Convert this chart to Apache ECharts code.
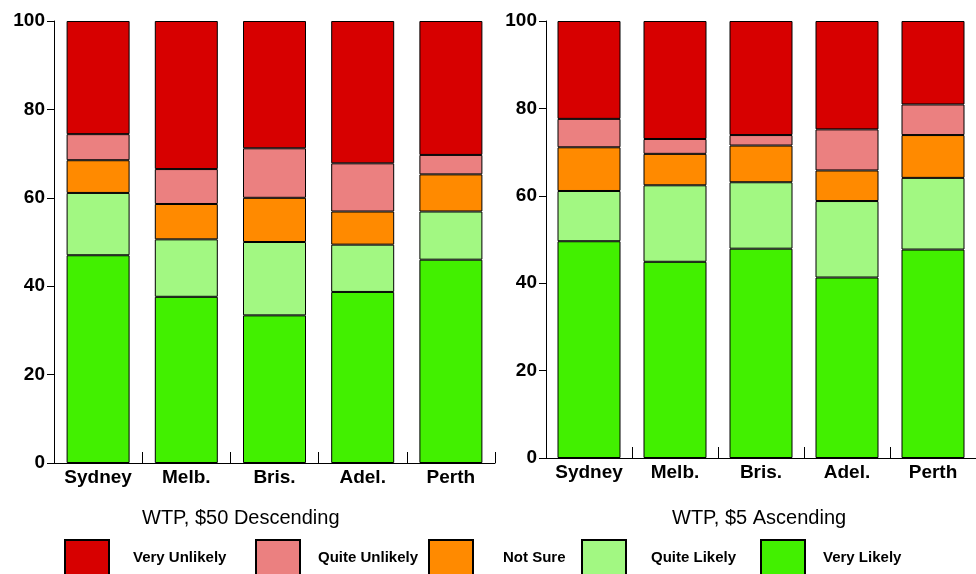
<!DOCTYPE html>
<html>
<head>
<meta charset="utf-8">
<script src="https://cdn.jsdelivr.net/npm/echarts@6/dist/echarts.min.js"></script>
<style>
  html, body { margin: 0; padding: 0; background: #fff; }
  #chart { width: 976px; height: 574px; }
</style>
</head>
<body>
<div id="chart"></div>
<script>
const cities = ['Sydney', 'Melb.', 'Bris.', 'Adel.', 'Perth'];
const levels = ['Very Unlikely', 'Quite Unlikely', 'Not Sure', 'Quite Likely', 'Very Likely'];
const colors = ['#d70000', '#eb8080', '#ff8a00', '#a2f882', '#42f000'];
const yTicks = [0, 20, 40, 60, 80, 100];

// WTP, $50 Descending (percent per city)
const desc_veryLikely = [47.0, 37.6, 33.4, 38.7, 46.0];
const desc_quiteLikely = [14.1, 13.0, 16.6, 10.7, 10.9];
const desc_notSure = [7.4, 8.0, 10.0, 7.5, 8.4];
const desc_quiteUnlikely = [5.9, 7.9, 11.2, 10.9, 4.4];
const desc_veryUnlikely = [25.6, 33.5, 28.8, 32.2, 30.3];

// WTP, $5 Ascending
const asc_veryLikely = [49.6, 44.9, 47.9, 41.3, 47.7];
const asc_quiteLikely = [11.5, 17.5, 15.2, 17.5, 16.4];
const asc_notSure = [10.0, 7.2, 8.4, 7.0, 9.8];
const asc_quiteUnlikely = [6.5, 3.4, 2.4, 9.4, 7.0];
const asc_veryUnlikely = [22.4, 27.0, 26.1, 24.8, 19.1];

const font = "'Liberation Sans', Arial, sans-serif";

const descData = {
  'Very Likely': desc_veryLikely,
  'Quite Likely': desc_quiteLikely,
  'Not Sure': desc_notSure,
  'Quite Unlikely': desc_quiteUnlikely,
  'Very Unlikely': desc_veryUnlikely
};
const ascData = {
  'Very Likely': asc_veryLikely,
  'Quite Likely': asc_quiteLikely,
  'Not Sure': asc_notSure,
  'Quite Unlikely': asc_quiteUnlikely,
  'Very Unlikely': asc_veryUnlikely
};

const makeX = (gridIndex) => ({
  type: 'category',
  gridIndex: gridIndex,
  data: cities,
  axisLine: { lineStyle: { color: '#000', width: 1 } },
  axisTick: { show: true, interval: 0, inside: true, length: 11, lineStyle: { color: '#000', width: 1 } },
  axisLabel: { interval: 0, color: '#000', fontFamily: font, fontWeight: 'bold', fontSize: 19, margin: 5 }
});

const makeY = (gridIndex) => ({
  type: 'value',
  gridIndex: gridIndex,
  min: 0,
  max: 100,
  interval: 20,
  splitLine: { show: false },
  axisLine: { show: true, lineStyle: { color: '#000', width: 1 } },
  axisTick: { show: true, length: 7, lineStyle: { color: '#000' } },
  axisLabel: {
    color: '#000', fontFamily: font, fontWeight: 'bold', fontSize: 19, margin: 9,
    formatter: (v) => yTicks.includes(v) ? String(v) : ''
  }
});

// bottom-up stacking order
const stackOrder = ['Very Likely', 'Quite Likely', 'Not Sure', 'Quite Unlikely', 'Very Unlikely'];
const series = [];
[descData, ascData].forEach((dataset, g) => {
  stackOrder.forEach(name => {
    series.push({
      name: name,
      type: 'bar',
      stack: 'g' + g,
      xAxisIndex: g,
      yAxisIndex: g,
      barWidth: 63,
      data: dataset[name],
      itemStyle: {
        color: colors[levels.indexOf(name)],
        borderColor: '#000',
        borderWidth: 1
      }
    });
  });
});

// one legend per item so each box/label can sit where the reference puts it
const legendPos = [
  { left: 64, pad: 19 },
  { left: 255, pad: 13 },
  { left: 428, pad: 25 },
  { left: 581, pad: 20 },
  { left: 760, pad: 13 }
];
const legends = levels.map((name, i) => ({
  data: [name],
  left: legendPos[i].left,
  top: 539,
  padding: 0,
  icon: 'rect',
  itemWidth: 44,
  itemHeight: 36,
  selectedMode: false,
  textStyle: {
    color: '#000', fontFamily: font, fontWeight: 'bold', fontSize: 15,
    padding: [0, 0, 0, legendPos[i].pad]
  }
}));

const chart = echarts.init(document.getElementById('chart'));
chart.setOption({
  backgroundColor: '#fff',
  animation: false,
  title: [
    { text: 'WTP, $50 Descending', left: 142, top: 508, padding: 0,
      textStyle: { fontFamily: font, fontWeight: 'normal', fontSize: 20, color: '#000' } },
    { text: 'WTP, $5 Ascending', left: 672, top: 508, padding: 0,
      textStyle: { fontFamily: font, fontWeight: 'normal', fontSize: 20, color: '#000' } }
  ],
  legend: legends,
  grid: [
    { left: 54, top: 21, width: 441, height: 442 },
    { left: 546, top: 21, width: 438, height: 437 }
  ],
  xAxis: [makeX(0), makeX(1)],
  yAxis: [makeY(0), makeY(1)],
  series: series
});
</script>
</body>
</html>
